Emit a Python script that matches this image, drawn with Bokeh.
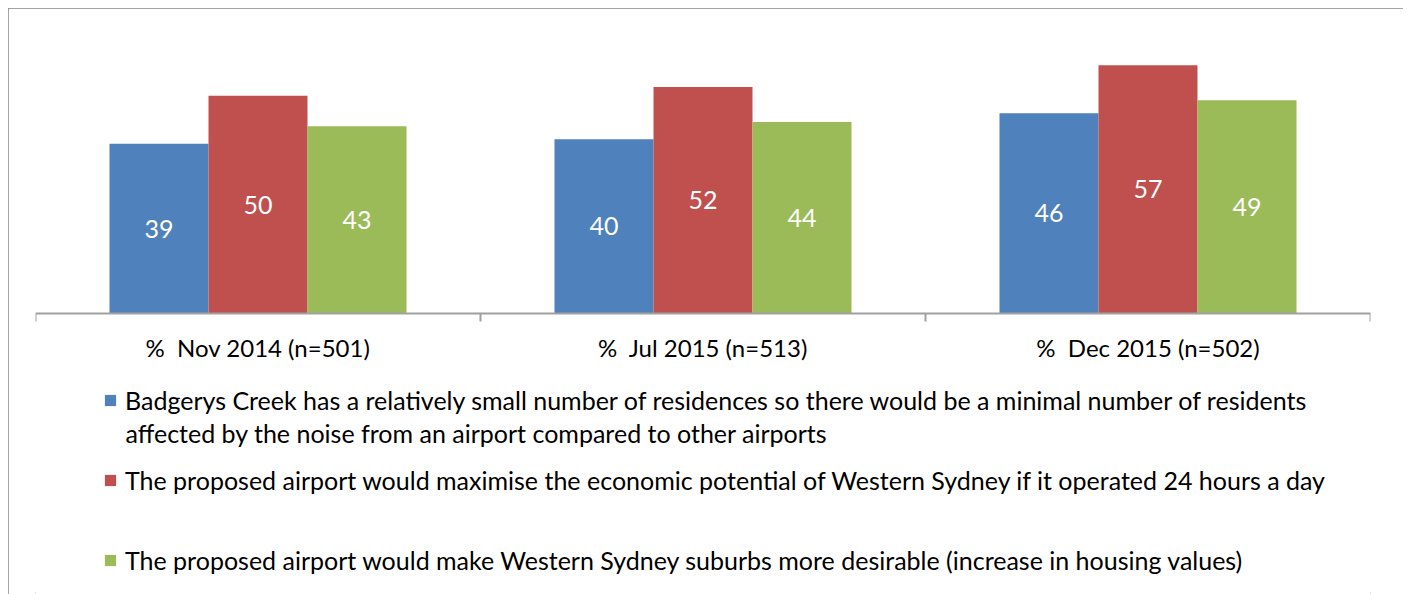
from bokeh.plotting import figure
from bokeh.models import (ColumnDataSource, Range1d, FixedTicker, LabelSet, Legend,
                          LegendItem, Label)
from bokeh.core.properties import value
from bokeh.transform import dodge
from bokeh.embed import file_html
from bokeh.resources import INLINE

# ---- data ----
categories = ["%\u00a0 Nov 2014 (n=501)", "%\u00a0 Jul 2015 (n=513)", "%\u00a0 Dec 2015 (n=502)"]
residences = [39, 40, 46]
economic = [50, 52, 57]
housing = [43, 44, 49]
series_names = [
    "Badgerys Creek has a relatively small number of residences so there would be a minimal number of residents",
    "The proposed airport would maximise the economic potential of Western Sydney if it operated 24 hours a day",
    "The proposed airport would make Western Sydney suburbs more desirable (increase in housing values)",
]
series_name_cont = "affected by the noise from an airport compared to other airports"
colors = ["#4F81BD", "#C0504D", "#9BBB59"]

FONT = "Lato"
centers = [i + 0.5 for i in range(len(categories))]
source = ColumnDataSource(dict(
    x=centers,
    residences=residences, economic=economic, housing=housing,
    residences_mid=[v / 2 for v in residences],
    economic_mid=[v / 2 for v in economic],
    housing_mid=[v / 2 for v in housing],
    residences_txt=[str(v) for v in residences],
    economic_txt=[str(v) for v in economic],
    housing_txt=[str(v) for v in housing],
))

# frame: y=0 at 283px below frame top, frame extends 281px below y=0
y_top = 65
y_bottom = -281 * y_top / 283

p = figure(width=1395, height=586, output_backend="svg", toolbar_location=None,
           x_range=Range1d(0, len(categories)), y_range=Range1d(y_bottom, y_top),
           min_border_left=27, min_border_right=33, min_border_top=22, min_border_bottom=0)
p.styles = {"margin-left": "8px", "margin-top": "8px",
            "outline": "2px solid #868686", "outline-offset": "-2px"}
p.outline_line_color = None
p.xgrid.visible = False
p.ygrid.visible = False
p.yaxis.visible = False

bw = 0.2225
offsets = [-bw, 0.0, bw]
keys = ["residences", "economic", "housing"]
renderers = []
for key, off, col in zip(keys, offsets, colors):
    r = p.vbar(x=dodge("x", off, range=p.x_range), top=key, width=bw, bottom=0,
               source=source, fill_color=col, line_color=None)
    renderers.append(r)
    p.add_layout(LabelSet(x=dodge("x", off, range=p.x_range), y=key + "_mid", text=key + "_txt",
                          source=source, text_color="white", text_font=value(FONT),
                          text_font_size="25px", text_align="center", text_baseline="middle"))

ax = p.xaxis[0]
ax.fixed_location = 0
ax.ticker = FixedTicker(ticks=centers, minor_ticks=[i for i in range(len(categories) + 1)])
ax.major_label_overrides = {c: lab for c, lab in zip(centers, categories)}
ax.axis_line_color = "#a0a0a0"
ax.axis_line_width = 2
ax.major_tick_out = 0
ax.major_tick_in = 0
ax.major_tick_line_color = None
ax.minor_tick_out = 8
ax.minor_tick_in = 0
ax.minor_tick_line_color = "#a0a0a0"
ax.minor_tick_line_width = 2
ax.major_label_standoff = 11
ax.major_label_text_font = FONT
ax.major_label_text_font_size = "24px"
ax.major_label_text_color = "black"

legend = Legend(items=[LegendItem(label=n, renderers=[r]) for n, r in zip(series_names, renderers)],
                location=(68, 19), orientation="vertical",
                glyph_width=14, glyph_height=14, label_height=30, label_standoff=8,
                spacing=50, padding=0, margin=0,
                border_line_color=None, background_fill_alpha=0,
                label_text_font=FONT, label_text_font_size="25px", label_text_color="black")
p.add_layout(legend, "center")

p.add_layout(Label(x=90, y=162, x_units="screen", y_units="screen", text=series_name_cont,
                   text_font=FONT, text_font_size="25px", text_color="black",
                   text_baseline="middle"))

open("out.html", "w").write(file_html(p, INLINE))
